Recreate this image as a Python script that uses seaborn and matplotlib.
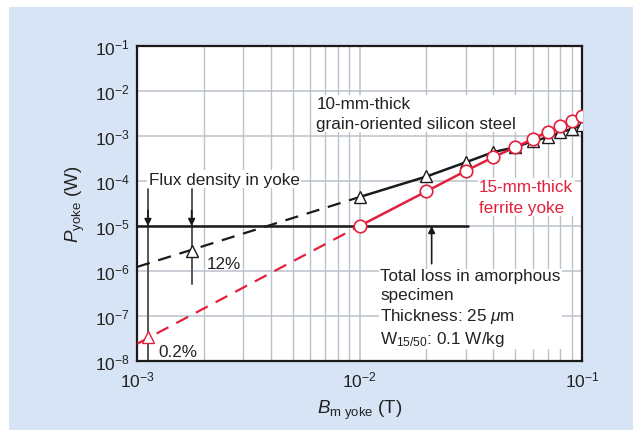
import numpy as np
import pandas as pd
import matplotlib
matplotlib.use("Agg")
import matplotlib.pyplot as plt
from matplotlib.patches import Rectangle
from matplotlib.ticker import LogLocator, NullFormatter, FixedLocator
import seaborn as sns

# ---- data ----
b_meas = [0.01, 0.02, 0.03, 0.04, 0.05, 0.06, 0.07, 0.08, 0.09, 0.10]
p_steel = [4.4e-5, 1.26e-4, 2.6e-4, 4.4e-4, 5.6e-4, 7.7e-4, 9.3e-4, 1.2e-3, 1.44e-3, 1.75e-3]
p_ferrite = [1.0e-5, 5.9e-5, 1.67e-4, 3.4e-4, 5.6e-4, 8.5e-4, 1.25e-3, 1.63e-3, 2.2e-3, 2.76e-3]
b_extrap = [0.001, 0.01]
p_steel_extrap = [1.23e-6, 4.4e-5]
p_ferrite_extrap = [2.4e-8, 1.0e-5]
b_yoke_steel = [0.00176]
p_yoke_steel = [2.8e-6]
b_yoke_ferrite = [0.00112]
p_yoke_ferrite = [3.4e-8]
amorphous_loss = 1e-5
amorphous_b_range = [0.001, 0.0308]
x_ticks = [1e-3, 1e-2, 1e-1]
x_ticklabels = [r"$10^{-3}$", r"$10^{-2}$", r"$10^{-1}$"]
y_ticks = [1e-8, 1e-7, 1e-6, 1e-5, 1e-4, 1e-3, 1e-2, 1e-1]
y_ticklabels = [r"$10^{-8}$", r"$10^{-7}$", r"$10^{-6}$", r"$10^{-5}$",
                r"$10^{-4}$", r"$10^{-3}$", r"$10^{-2}$", r"$10^{-1}$"]

sns.set_style("white")
plt.rcParams['font.family'] = ['Liberation Sans', 'DejaVu Sans']
plt.rcParams['mathtext.fontset'] = 'custom'
plt.rcParams['mathtext.rm'] = 'Liberation Sans'
plt.rcParams['mathtext.it'] = 'Liberation Sans:italic'

RED = "#e3203b"
GRID = "#bcc2cc"
BLUE_BG = "#d6e4f5"

fig = plt.figure(figsize=(6.42, 4.39), dpi=100, facecolor="white")
fig.patches.append(Rectangle((9/642, 1-431/439), (633-9)/642, (431-8)/439,
                             transform=fig.transFigure, facecolor=BLUE_BG,
                             edgecolor="none", zorder=-10))
ax = fig.add_axes([137/642, 1-362/439, (582-137)/642, (362-47)/439])
ax.set_facecolor("white")
ax.set_xscale("log")
ax.set_yscale("log")
ax.set_xlim(1e-3, 1e-1)
ax.set_ylim(1e-8, 1e-1)

# grid
ax.xaxis.set_major_locator(FixedLocator(x_ticks))
ax.xaxis.set_minor_locator(LogLocator(base=10, subs=np.arange(2, 10)))
ax.yaxis.set_major_locator(FixedLocator(y_ticks))
ax.yaxis.set_minor_locator(LogLocator(base=10, subs=np.arange(2, 10), numticks=20))
ax.xaxis.set_minor_formatter(NullFormatter())
ax.yaxis.set_minor_formatter(NullFormatter())
ax.grid(True, which="major", axis="both", color=GRID, lw=1.1, zorder=0)
ax.grid(True, which="minor", axis="x", color=GRID, lw=1.0, zorder=0)
ax.set_axisbelow(True)

# dashed extrapolations
df_se = pd.DataFrame({"B": b_extrap, "P": p_steel_extrap})
df_fe = pd.DataFrame({"B": b_extrap, "P": p_ferrite_extrap})
sns.lineplot(data=df_se, x="B", y="P", ax=ax, color="#1a1a1a", lw=1.6,
             linestyle=(0, (6, 4)), zorder=3)
sns.lineplot(data=df_fe, x="B", y="P", ax=ax, color=RED, lw=1.6,
             linestyle=(0, (6, 4)), zorder=3)

# amorphous loss line
ax.plot(amorphous_b_range, [amorphous_loss, amorphous_loss], color="#1a1a1a", lw=1.8, zorder=4)

# vertical flux-density lines with arrows
ax.plot([b_yoke_ferrite[0]] * 2, [6.6e-5, 1e-8], color="#555555", lw=1.4, zorder=2)
ax.plot([b_yoke_steel[0]] * 2, [6.6e-5, 5.1e-7], color="#555555", lw=1.4, zorder=2)
for bx in [b_yoke_ferrite[0], b_yoke_steel[0]]:
    ax.annotate("", xy=(bx, amorphous_loss), xytext=(bx, 2.2e-5),
                arrowprops=dict(arrowstyle="-|>", color="#1a1a1a", lw=1.2,
                                mutation_scale=10, shrinkA=0, shrinkB=0), zorder=5)
ax.annotate("", xy=(0.0211, amorphous_loss), xytext=(0.0211, 1.45e-6),
            arrowprops=dict(arrowstyle="-|>", color="#1a1a1a", lw=1.2,
                            mutation_scale=10, shrinkA=0, shrinkB=0), zorder=5)

# measured series
df_s = pd.DataFrame({"B": b_meas, "P": p_steel})
df_f = pd.DataFrame({"B": b_meas, "P": p_ferrite})
sns.lineplot(data=df_s, x="B", y="P", ax=ax, color="#1a1a1a", lw=1.8, marker="^",
             markersize=9, markerfacecolor="white", markeredgecolor="#1a1a1a",
             markeredgewidth=1.0, zorder=6)
sns.lineplot(data=df_f, x="B", y="P", ax=ax, color=RED, lw=1.8, marker="o",
             markersize=9, markerfacecolor="white", markeredgecolor=RED,
             markeredgewidth=1.2, zorder=7)

# yoke operating points
ax.plot(b_yoke_steel, p_yoke_steel, linestyle="none", marker="^", markersize=9,
        markerfacecolor="white", markeredgecolor="#1a1a1a", markeredgewidth=1.0, zorder=6)
ax.plot(b_yoke_ferrite, p_yoke_ferrite, linestyle="none", marker="^", markersize=9,
        markerfacecolor="white", markeredgecolor=RED, markeredgewidth=1.0, zorder=6)

# text
fs = 12.3
bbox = dict(facecolor="white", edgecolor="none", pad=1.0)
ax.text(0.0064, 3.2e-3, "10-mm-thick\ngrain-oriented silicon steel", fontsize=fs,
        color="#222222", ha="left", va="center", linespacing=1.4, bbox=bbox, zorder=8)
ax.text(0.00113, 1.1e-4, "Flux density in yoke", fontsize=fs, color="#222222",
        ha="left", va="center", bbox=bbox, zorder=8)
ax.text(0.00205, 1.45e-6, "12%", fontsize=fs, color="#222222", ha="left", va="center", zorder=8)
ax.text(0.00125, 1.6e-8, "0.2%", fontsize=fs, color="#222222", ha="left", va="center", zorder=8)
ax.text(0.0345, 4.4e-5, "15-mm-thick\nferrite yoke", fontsize=fs, color=RED,
        ha="left", va="center", linespacing=1.45, bbox=bbox, zorder=8)
ax.text(0.0124, 1.5e-7,
        "Total loss in amorphous\nspecimen\nThickness: 25 $\\mu$m\nW$_{15/50}$: 0.1 W/kg",
        fontsize=fs, color="#222222", ha="left", va="center", linespacing=1.3,
        bbox=bbox, zorder=8)

# ticks and spines
ax.set_xticks(x_ticks)
ax.set_xticklabels(x_ticklabels, fontsize=12.5)
ax.set_yticks(y_ticks)
ax.set_yticklabels(y_ticklabels, fontsize=12.5)
ax.tick_params(axis="x", which="both", length=0, pad=6, colors="#222222")
ax.tick_params(axis="y", which="major", direction="in", length=10, width=1.0, colors="#222222", pad=5)
ax.tick_params(axis="y", which="minor", direction="in", length=5, width=0.8, colors="#222222")
for s in ax.spines.values():
    s.set_visible(True)
    s.set_linewidth(1.6)
    s.set_color("#1a1a1a")

ax.set_xlabel(r"$\it{B}$$_{\rm m\ yoke}$ (T)", fontsize=13.5, color="#222222", labelpad=6)
ax.set_ylabel(r"$\it{P}$$_{\rm yoke}$ (W)", fontsize=13.5, color="#222222", labelpad=6)

fig.savefig("out.png", dpi=100, facecolor=fig.get_facecolor())
